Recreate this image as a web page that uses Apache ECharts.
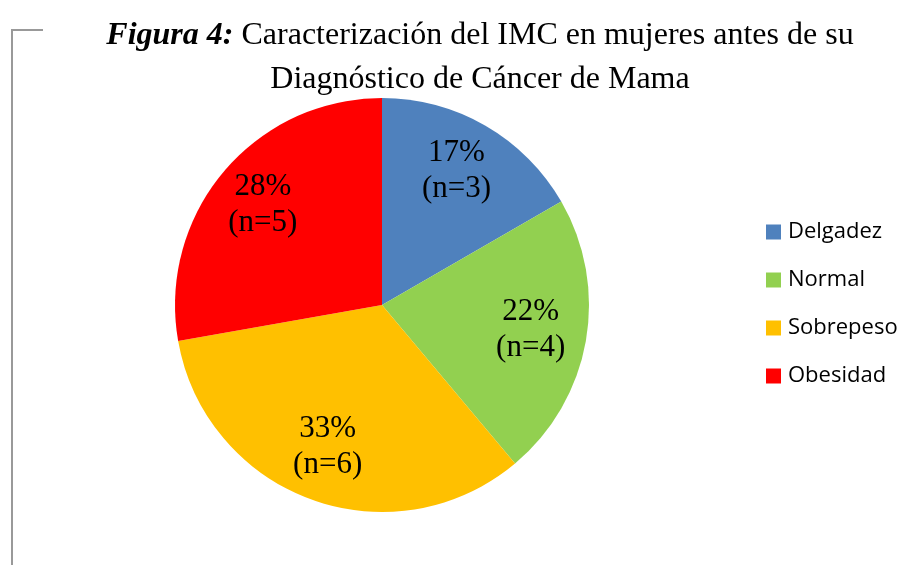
<!DOCTYPE html>
<html>
<head>
<meta charset="utf-8">
<script src="https://cdn.jsdelivr.net/npm/echarts@6/dist/echarts.min.js"></script>
<style>
    html,body{margin:0;padding:0;background:#fff;}
    #chart{width:912px;height:565px;}
</style>
</head>
<body>
<div id="chart"></div>
<script>
var categories = ['Delgadez', 'Normal', 'Sobrepeso', 'Obesidad'];
var counts = [3, 4, 6, 5];
var percents = [17, 22, 33, 28];
var colors = ['#4F81BD', '#92D050', '#FFC000', '#FF0000'];

function buildData(){
    var arr = [];
    for (var i = 0; i < categories.length; i++) {
        arr.push({name: categories[i], value: counts[i], pct: percents[i]});
    }
    return arr;
}

var myChart = echarts.init(document.getElementById('chart'));
var opt = {
    animation: false,
    color: colors,
    title: {
        left: 475,
        top: 9,
        textAlign: 'center',
        text: '{b|Figura 4:} Caracterización del IMC en mujeres antes de su\nDiagnóstico de Cáncer de Mama',
        textStyle: {
            fontFamily: 'Liberation Serif',
            fontSize: 32,
            fontWeight: 'normal',
            color: '#000',
            lineHeight: 44,
            rich: {
                b: {fontFamily: 'Liberation Serif', fontSize: 32, fontWeight: 'bold', fontStyle: 'italic', color: '#000'}
            }
        }
    },
    legend: {
        orient: 'vertical',
        left: 761,
        top: 212,
        itemWidth: 15,
        itemHeight: 15,
        itemGap: 18,
        icon: 'rect',
        textStyle: {fontFamily: 'Open Sans', fontSize: 22, lineHeight: 30, color: '#000', padding: [0, 0, 0, 2]},
        data: categories
    },
    graphic: [{
        type: 'polyline',
        silent: true,
        shape: {points: [[43, 30], [12, 30], [12, 565]]},
        style: {stroke: '#999', lineWidth: 2, fill: null}
    }],
    series: [{
        type: 'pie',
        center: [382, 305],
        radius: 207,
        startAngle: 90,
        clockwise: true,
        label: {show: false},
        labelLine: {show: false},
        emphasis: {disabled: true},
        data: buildData()
    }, {
        // serie transparente solo para colocar las etiquetas
        type: 'pie',
        center: [380, 303],
        radius: 300,
        startAngle: 90,
        clockwise: true,
        silent: true,
        itemStyle: {color: 'rgba(0,0,0,0)'},
        labelLine: {show: false},
        label: {
            show: true,
            position: 'inside',
            fontFamily: 'Liberation Serif',
            fontSize: 31,
            lineHeight: 36,
            color: '#000',
            formatter: function(p){
                return p.data.pct + '%\n(n=' + p.value + ')';
            }
        },
        data: buildData()
    }]
};
myChart.setOption(opt);
</script>
</body>
</html>
